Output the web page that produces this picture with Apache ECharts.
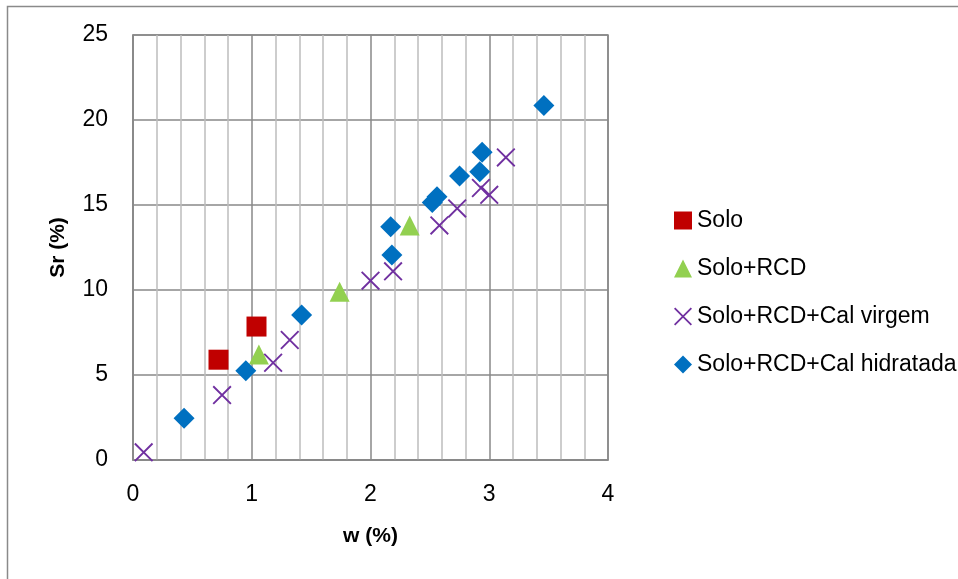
<!DOCTYPE html>
<html>
<head>
<meta charset="utf-8">
<script src="https://cdn.jsdelivr.net/npm/echarts@6/dist/echarts.min.js"></script>
<style>html,body{margin:0;padding:0;background:#fff}#c{width:958px;height:579px}</style>
</head>
<body>
<div id="c"></div>
<script>
var seriesNames = ['Solo', 'Solo+RCD', 'Solo+RCD+Cal virgem', 'Solo+RCD+Cal hidratada'];
var xTicks = [0, 1, 2, 3, 4];
var yTicks = [0, 5, 10, 15, 20, 25];

var soloW  = [0.72, 1.04];
var soloSr = [5.9, 7.85];

var rcdW  = [1.06, 1.74, 2.33];
var rcdSr = [6.2, 9.9, 13.8];

var virgemW  = [0.09, 0.75, 1.18, 1.32, 2.0, 2.19, 2.58, 2.73, 2.93, 3.0, 3.14];
var virgemSr = [0.45, 3.82, 5.72, 7.06, 10.55, 11.1, 13.8, 14.8, 16.0, 15.6, 17.8];

var hidW  = [0.43, 0.95, 1.42, 2.17, 2.18, 2.52, 2.56, 2.75, 2.92, 2.94, 3.46];
var hidSr = [2.45, 5.25, 8.53, 13.72, 12.06, 15.14, 15.49, 16.7, 16.96, 18.1, 20.85];

function pairs(xs, ys) { return xs.map(function (x, i) { return [x, ys[i]]; }); }

var FONT = '"Liberation Sans", Arial, sans-serif';
var X_PATH = 'path://M0,7L7,0L100,93L93,100ZM93,0L100,7L7,100L0,93Z';

var chart = echarts.init(document.getElementById('c'), null, { renderer: 'canvas' });
chart.setOption({
  animation: false,
  backgroundColor: '#fff',
  graphic: [{
    type: 'rect',
    shape: { x: 7.5, y: 6.5, width: 1000, height: 1000 },
    style: { fill: 'none', stroke: '#8a8a8a', lineWidth: 1.5 },
    silent: true
  }],
  grid: { left: 133, top: 35, right: 350, bottom: 119, show: true, borderColor: '#888', borderWidth: 1.5 },
  xAxis: {
    type: 'value',
    min: xTicks[0], max: xTicks[xTicks.length - 1], interval: 1,
    name: 'w (%)', nameLocation: 'middle', nameGap: 66,
    nameTextStyle: { fontFamily: FONT, fontSize: 21, fontWeight: 'bold', color: '#000' },
    axisLine: { show: true, lineStyle: { color: '#888', width: 1.5 } },
    axisTick: { show: false },
    axisLabel: { fontFamily: FONT, fontSize: 23, color: '#000', margin: 23 },
    splitLine: { show: true, lineStyle: { color: '#888', width: 1.5 } },
    minorTick: { show: false, splitNumber: 5 },
    minorSplitLine: { show: true, lineStyle: { color: '#bdbdbd', width: 1.5 } }
  },
  yAxis: {
    type: 'value',
    min: yTicks[0], max: yTicks[yTicks.length - 1], interval: 5,
    name: 'Sr (%)', nameLocation: 'middle', nameGap: 64,
    nameTextStyle: { fontFamily: FONT, fontSize: 21, fontWeight: 'bold', color: '#000' },
    axisLine: { show: true, lineStyle: { color: '#888', width: 1.5 } },
    axisTick: { show: false },
    axisLabel: { fontFamily: FONT, fontSize: 23, color: '#000', margin: 25 },
    splitLine: { show: true, lineStyle: { color: '#888', width: 1.5 } }
  },
  legend: {
    orient: 'vertical',
    left: 674, top: 209, padding: 0,
    itemWidth: 18, itemHeight: 18, itemGap: 25,
    textStyle: { fontFamily: FONT, fontSize: 23, color: '#000' },
    data: seriesNames
  },
  series: [
    { name: seriesNames[0], type: 'scatter', symbol: 'rect', symbolSize: 20,
      itemStyle: { color: '#C00000', opacity: 1 }, data: pairs(soloW, soloSr) },
    { name: seriesNames[1], type: 'scatter', symbol: 'triangle', symbolSize: 20,
      itemStyle: { color: '#92D050', opacity: 1 }, data: pairs(rcdW, rcdSr) },
    { name: seriesNames[2], type: 'scatter', symbol: X_PATH, symbolSize: 19,
      itemStyle: { color: '#7030A0', opacity: 1 }, data: pairs(virgemW, virgemSr) },
    { name: seriesNames[3], type: 'scatter', symbol: 'diamond', symbolSize: 21,
      itemStyle: { color: '#0070C0', opacity: 1 }, data: pairs(hidW, hidSr) }
  ]
});
</script>
</body>
</html>
